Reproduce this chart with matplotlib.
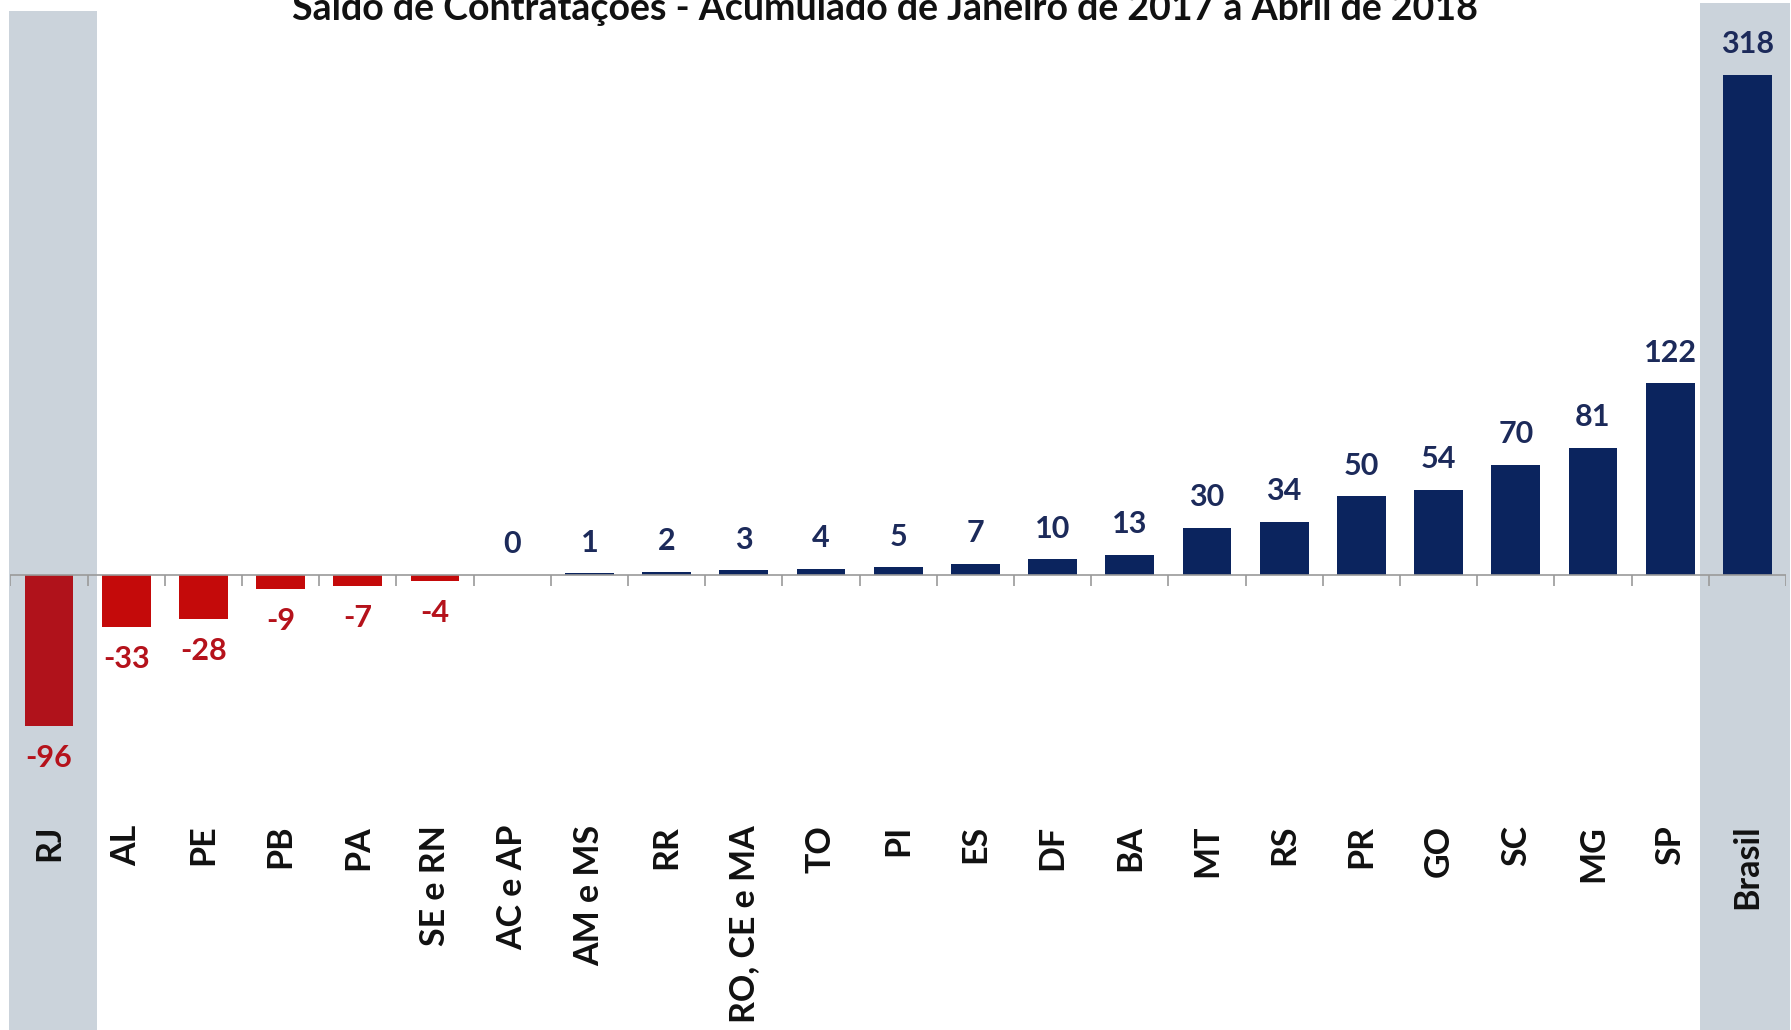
import matplotlib
matplotlib.use("Agg")
import matplotlib.pyplot as plt
from matplotlib.patches import Rectangle
from matplotlib.transforms import blended_transform_factory
import numpy as np

categories = ["RJ", "AL", "PE", "PB", "PA", "SE e RN", "AC e AP", "AM e MS", "RR",
              "RO, CE e MA", "TO", "PI", "ES", "DF", "BA", "MT", "RS", "PR", "GO",
              "SC", "MG", "SP", "Brasil"]
values = [-96, -33, -28, -9, -7, -4, 0, 1, 2, 3, 4, 5, 7, 10, 13, 30, 34, 50, 54,
          70, 81, 122, 318]
highlighted = ["RJ", "Brasil"]
title = "Saldo de Contratações - Acumulado de Janeiro de 2017 a Abril de 2018"

RED = "#C40A0A"
RED_DARK = "#B0121B"
NAVY = "#0B245E"
RED_TXT = "#B5121B"
NAVY_TXT = "#1C2A5A"
BAND = "#CBD3DB"

plt.rcParams["font.family"] = ["Lato", "DejaVu Sans"]

fig = plt.figure(figsize=(17.91, 10.30), dpi=100)
fig.patch.set_facecolor("white")
ax = fig.add_axes([0.0058, 0.2585, 0.9914, 0.7025])
ax.set_facecolor("none")

x = np.arange(len(categories))
colors = []
for c, v in zip(categories, values):
    if v < 0:
        colors.append(RED_DARK if c in highlighted else RED)
    else:
        colors.append(NAVY)
ax.bar(x, values, width=0.63, color=colors, zorder=3)

ax.set_xlim(-0.5, len(categories) - 0.5)
ax.set_ylim(-120, 340)

# highlight bands spanning the full figure height
trans = blended_transform_factory(ax.transData, fig.transFigure)
band_spans = {"RJ": (-0.52, 0.62, 0.989), "Brasil": (-0.62, 0.55, 0.997)}
for c in highlighted:
    i = categories.index(c)
    lo, hi, top = band_spans[c]
    fig.add_artist(Rectangle((i + lo, 0), hi - lo, top, transform=trans,
                             facecolor=BAND, edgecolor="none", zorder=-5))

# zero line with boundary ticks
ax.axhline(0, color="#9A9A9A", lw=1.2, zorder=4)
ax.vlines(np.arange(len(categories) + 1) - 0.5, -7, 0, color="#9A9A9A", lw=1.2, zorder=4)

# value labels
for i, v in enumerate(values):
    off = -23 if v < 0 else 22
    ax.annotate(f"{v}", (i, v), xytext=(0, off), textcoords="offset points",
                ha="center", va="center", fontsize=22, fontweight="bold",
                color=RED_TXT if v < 0 else NAVY_TXT, zorder=5)

for s in ax.spines.values():
    s.set_visible(False)
ax.set_yticks([])
ax.set_xticks(x)
ax.set_xticklabels(categories, rotation=90, ha="center", va="top",
                   fontsize=24.5, fontweight="bold", color="#111111")
ax.tick_params(axis="x", length=0, pad=44)

fig.text(0.494, 1 - 20 / 1030, title, ha="center", va="baseline",
         fontsize=27, fontweight="bold", color="#111111")

fig.savefig("out.png", dpi=100, facecolor="white")
